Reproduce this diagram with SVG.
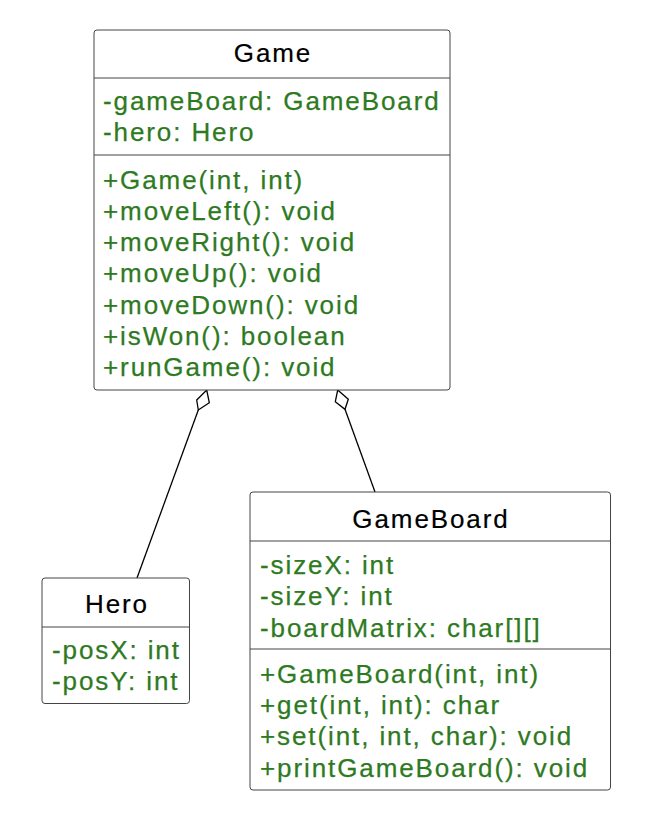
<svg xmlns="http://www.w3.org/2000/svg" width="654" height="816" viewBox="0 0 654 816">
<style>
.box{fill:#fff;stroke:#444;stroke-width:1}
.sep{stroke:#444;stroke-width:1}
.title{font-family:"Liberation Sans",Arial,sans-serif;font-size:26px;letter-spacing:1.9px;fill:#000;stroke:#000;stroke-width:0.2;text-anchor:middle}
.mem{font-family:"Liberation Sans",Arial,sans-serif;font-size:26px;letter-spacing:1.9px;fill:#2e7a1f;stroke:#2e7a1f;stroke-width:0.25}
.conn{stroke:#000;stroke-width:1.3;fill:none}
.dia{stroke:#000;stroke-width:1.3;fill:#fff}
</style>
<rect width="654" height="816" fill="#fff"/>
<g id="connectors">
<line class="conn" x1="198.3" y1="410" x2="137" y2="578"/>
<polygon class="dia" points="206.7,390 209.3,402.7 198.3,410 196.7,400"/>
<line class="conn" x1="345" y1="409.3" x2="375" y2="492"/>
<polygon class="dia" points="337.7,390 348.3,399.3 345,409.3 335.3,401.7"/>
</g>
<g id="Game">
<rect class="box" x="94" y="30" width="356" height="360" rx="3"/>
<text class="title" x="273" y="62">Game</text>
<line class="sep" x1="94" y1="78" x2="450" y2="78"/>
<text class="mem" x="103" y="109.5">-gameBoard: GameBoard</text>
<text class="mem" x="103" y="141">-hero: Hero</text>
<line class="sep" x1="94" y1="155" x2="450" y2="155"/>
<text class="mem" x="103" y="188.5">+Game(int, int)</text>
<text class="mem" x="103" y="219.8">+moveLeft(): void</text>
<text class="mem" x="103" y="251">+moveRight(): void</text>
<text class="mem" x="103" y="282.4">+moveUp(): void</text>
<text class="mem" x="103" y="313.7">+moveDown(): void</text>
<text class="mem" x="103" y="345">+isWon(): boolean</text>
<text class="mem" x="103" y="376.3">+runGame(): void</text>
</g>
<g id="Hero">
<rect class="box" x="42" y="578" width="147.5" height="125.5" rx="3"/>
<text class="title" x="117" y="612.5">Hero</text>
<line class="sep" x1="42" y1="627" x2="189.5" y2="627"/>
<text class="mem" x="52" y="658.5">-posX: int</text>
<text class="mem" x="52" y="690">-posY: int</text>
</g>
<g id="GameBoard">
<rect class="box" x="250" y="492" width="360.5" height="298" rx="3"/>
<text class="title" x="431" y="527.5">GameBoard</text>
<line class="sep" x1="250" y1="541" x2="610.5" y2="541"/>
<text class="mem" x="260" y="573.5">-sizeX: int</text>
<text class="mem" x="260" y="605">-sizeY: int</text>
<text class="mem" x="260" y="636.5">-boardMatrix: char[][]</text>
<line class="sep" x1="250" y1="649" x2="610.5" y2="649"/>
<text class="mem" x="260" y="682.5">+GameBoard(int, int)</text>
<text class="mem" x="260" y="713.5">+get(int, int): char</text>
<text class="mem" x="260" y="745">+set(int, int, char): void</text>
<text class="mem" x="260" y="776.5">+printGameBoard(): void</text>
</g>
</svg>
